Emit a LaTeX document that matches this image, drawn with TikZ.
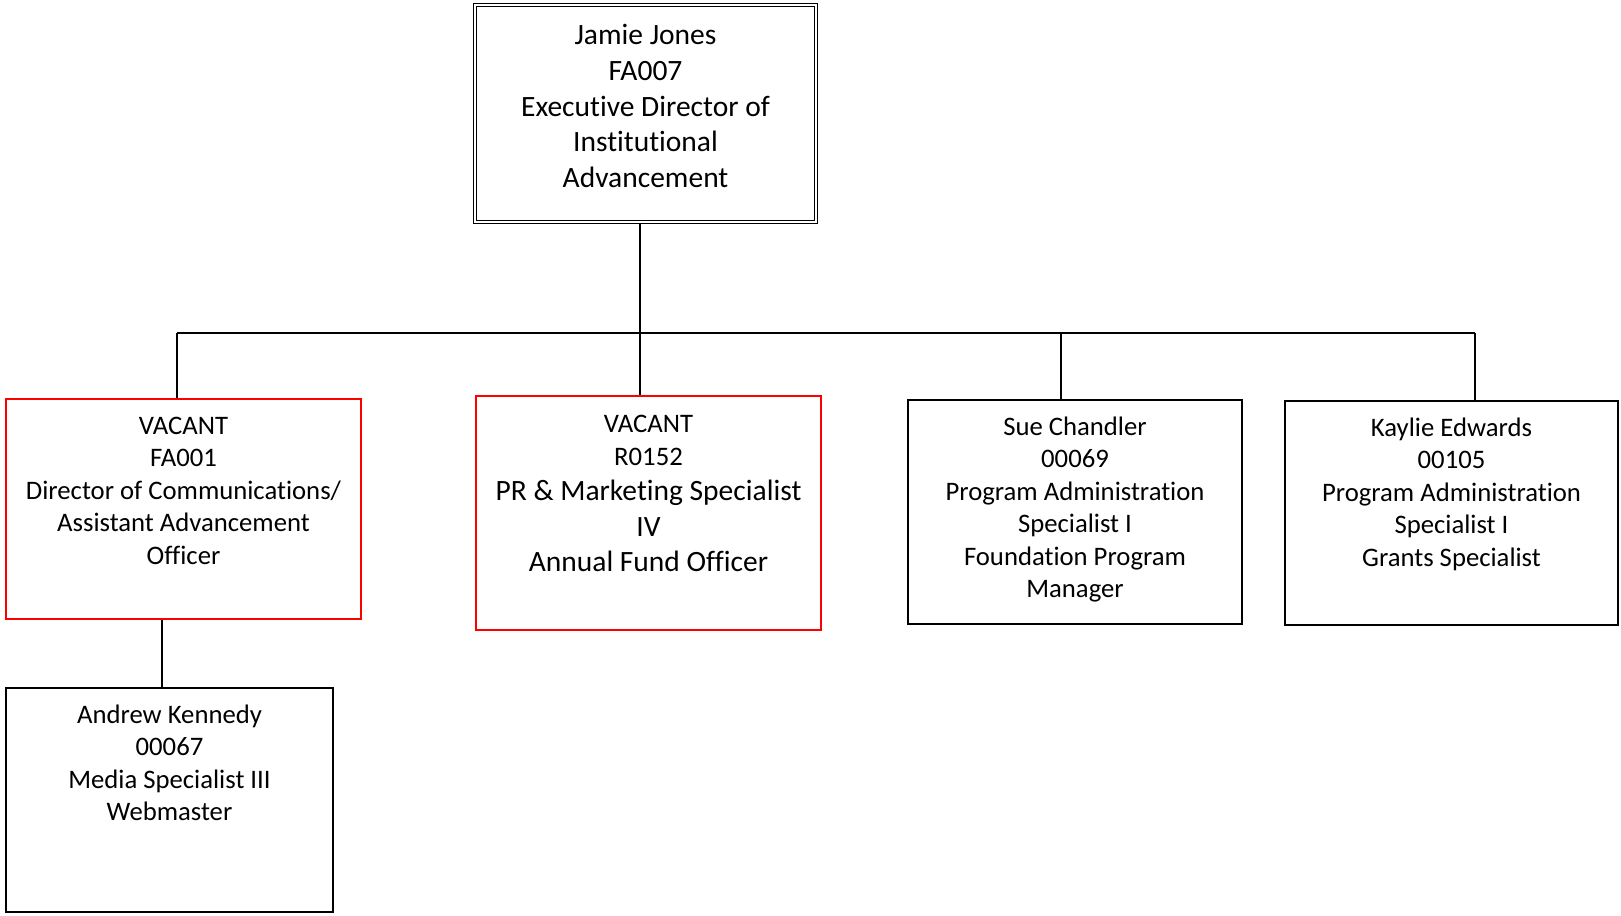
\documentclass[tikz,border=0pt]{standalone}
\usepackage{fontspec}
\setmainfont{Carlito}[Ligatures={NoCommon}]
\usetikzlibrary{calc}
\definecolor{vacred}{RGB}{255,0,0}
\begin{document}
\begin{tikzpicture}[x=1pt,y=-1pt,
  box/.style={draw=black,line width=2pt,rectangle,inner sep=0pt},
  redbox/.style={box,draw=vacred,line width=2.2pt},
  topbox/.style={rectangle,inner sep=0pt,draw=black,line width=1.2pt,double,double distance=2pt},
  txt/.style={align=center,inner sep=0pt,anchor=north,font=\fontsize{26.7}{32.5}\selectfont},
  conn/.style={draw=black,line width=1.1pt}]
\useasboundingbox (0,0) rectangle (1621,915);
% boxes
\node[topbox,minimum width=341pt,minimum height=217pt] (top) at (645.5,113.5) {};
\node[redbox,minimum width=355pt,minimum height=220pt] (b1) at (183.5,509) {};
\node[redbox,minimum width=345pt,minimum height=234pt] (b2) at (648.5,513) {};
\node[box,minimum width=334pt,minimum height=224pt] (b3) at (1075,512) {};
\node[box,minimum width=333pt,minimum height=224pt] (b4) at (1451.5,513) {};
\node[box,minimum width=327pt,minimum height=224pt] (b5) at (169.5,800) {};
% texts
\node[txt,font=\fontsize{29.5}{35.7}\selectfont] (ttop) at ($(top.north)+(0,16)$) {\rule{0pt}{24pt}Jamie Jones\\FA007\\Executive Director of\\Institutional\\Advancement};
\node[txt] (t1) at ($(b1.north)+(0,14)$) {\rule{0pt}{22pt}VACANT\\FA001\\Director of Communications/\\Assistant Advancement\\Officer};
\node[txt] (t2) at ($(b2.north)+(0,15)$) {\rule{0pt}{22pt}VACANT\\[0.5pt]R0152\\[2.5pt]{\fontsize{29.5}{35}\selectfont PR \& Marketing Specialist}\\[3.5pt]{\fontsize{29.5}{35}\selectfont IV}\\[2.5pt]{\fontsize{29.5}{35}\selectfont Annual Fund Officer}};
\node[txt] (t3) at ($(b3.north)+(0,14)$) {\rule{0pt}{22pt}Sue Chandler\\00069\\Program Administration\\Specialist I\\Foundation Program\\Manager};
\node[txt] (t4) at ($(b4.north)+(0,14)$) {\rule{0pt}{22pt}Kaylie Edwards\\00105\\Program Administration\\Specialist I\\Grants Specialist};
\node[txt] (t5) at ($(b5.north)+(0,14)$) {\rule{0pt}{22pt}Andrew Kennedy\\00067\\Media Specialist III\\Webmaster};
% connectors
\coordinate (j1) at (177,333);
\coordinate (j2) at (640,333);
\coordinate (j3) at (1061,333);
\coordinate (j4) at (1475,333);
\coordinate (k1) at (162,640);
\draw[conn] (top.south -| j2) -- (j2);
\draw[conn] (j1) -- (j4);
\draw[conn] (j1) -- (j1 |- b1.north);
\draw[conn] (j2) -- (j2 |- b2.north);
\draw[conn] (j3) -- (j3 |- b3.north);
\draw[conn] (j4) -- (j4 |- b4.north);
\draw[conn] (b1.south -| k1) -- (b5.north -| k1);
\end{tikzpicture}
\end{document}
